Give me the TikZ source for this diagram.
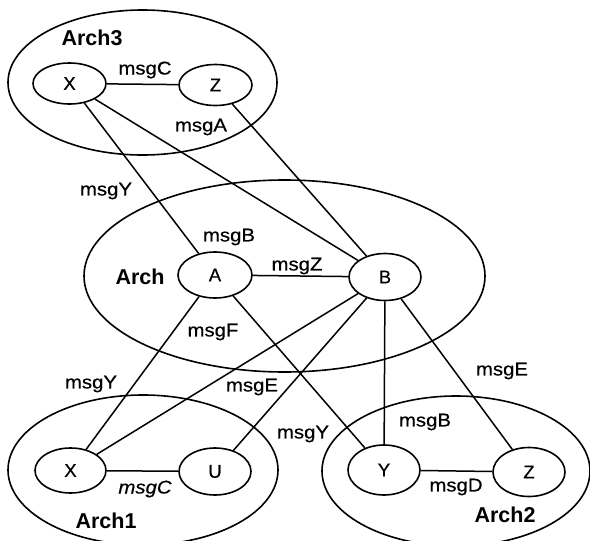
\documentclass[tikz,border=0pt]{standalone}
\usepackage{fontspec}
\setmainfont{Liberation Sans}
\newfontfamily\msgfont[FakeStretch=1.1,FakeBold=0.6]{Liberation Sans}
\newfontfamily\compfont[FakeBold=0.6]{Liberation Sans}
\usetikzlibrary{shapes.geometric}
\begin{document}
\begin{tikzpicture}[x=1pt,y=-1pt,
  region/.style={draw, ellipse, line width=1.6pt, inner sep=0pt},
  comp/.style={draw, ellipse, line width=1.6pt, inner sep=0pt,
               font=\compfont\fontsize{18.5}{20}\selectfont},
  link/.style={line width=1.5pt},
  msg/.style={font=\msgfont\fontsize{18.5}{20}\selectfont, inner sep=0pt},
  title/.style={font=\fontsize{21.5}{24}\selectfont\bfseries, inner sep=0pt}]
\useasboundingbox (0,0) rectangle (590,541);

% architecture regions
\node[region, minimum width=269, minimum height=145] (arch3) at (142.5,82.5) {};
\node[region, minimum width=401, minimum height=192] (arch)  at (284.5,276) {};
\node[region, minimum width=270, minimum height=150] (arch1) at (143,470) {};
\node[region, minimum width=268, minimum height=150] (arch2) at (456,471) {};

\node[title] (t3) at (92,38)   {Arch3};
\node[title] (t0) at (140,277) {Arch};
\node[title] (t1) at (106,521) {Arch1};
\node[title] (t2) at (505,515) {Arch2};

% components
\node[comp, minimum width=73, minimum height=41] (x3) at (69.5,83.5) {X};
\node[comp, minimum width=73, minimum height=41] (z3) at (215.5,85) {Z};
\node[comp, minimum width=74, minimum height=46] (a)  at (215,275) {A};
\node[comp, minimum width=72, minimum height=47] (b)  at (385,277) {B};
\node[comp, minimum width=71, minimum height=45] (x1) at (70.5,470.5) {X};
\node[comp, minimum width=72, minimum height=47] (u1) at (215,471.5) {U};
\node[comp, minimum width=72, minimum height=50] (y2) at (384,470) {Y};
\node[comp, minimum width=72, minimum height=49] (z2) at (529,472) {Z};

% connectors
\draw[link] (x3) -- (z3);
\draw[link] (x3) -- (a);
\draw[link] (x3) -- (b);
\draw[link] (z3) -- (b);
\draw[link] (a) -- (b);
\draw[link] (a) -- (x1);
\draw[link] (a) -- (y2);
\draw[link] (b) -- (x1);
\draw[link] (b) -- (u1);
\draw[link] (b) -- (y2);
\draw[link] (b) -- (z2);
\draw[link] (x1) -- (u1);
\draw[link] (y2) -- (z2);

% message labels
\node[msg] (m1)  at (145,70)  {msgC};
\node[msg] (m2)  at (201,127) {msgA};
\node[msg] (m3)  at (106,191) {msgY};
\node[msg] (m4)  at (229,237) {msgB};
\node[msg] (m5)  at (297,266) {msgZ};
\node[msg] (m6)  at (213,332) {msgF};
\node[msg] (m7)  at (91,384)  {msgY};
\node[msg] (m8)  at (252,387) {msgE};
\node[msg] (m9)  at (145,489) {\itshape msgC};
\node[msg] (m10) at (303,434) {msgY};
\node[msg] (m11) at (425,422) {msgB};
\node[msg] (m12) at (502,371) {msgE};
\node[msg] (m13) at (456,487) {msgD};
\end{tikzpicture}
\end{document}
